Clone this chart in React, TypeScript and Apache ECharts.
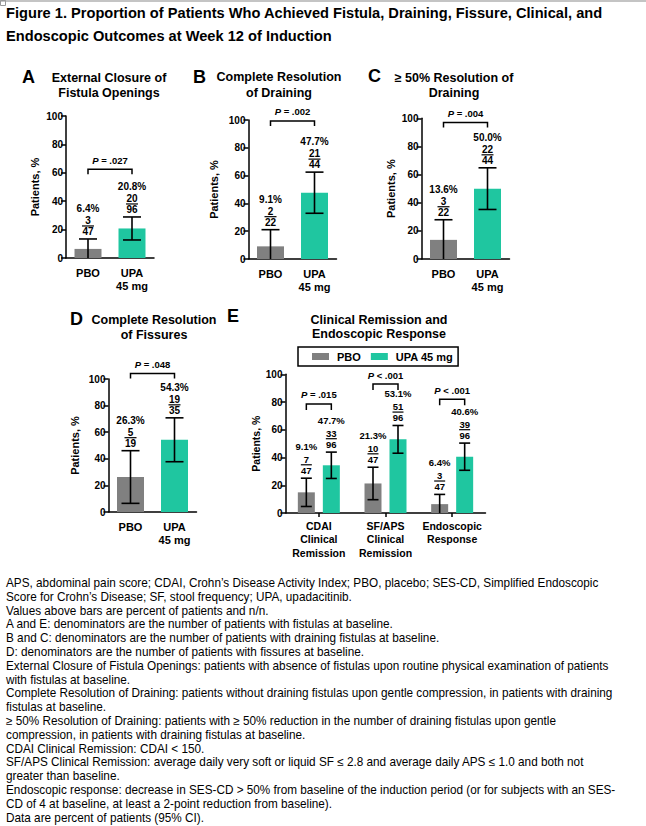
import React, { useEffect, useRef } from 'react';
import * as echarts from 'echarts';

const FONT = '"Liberation Sans", Arial, Helvetica, sans-serif';
const GRAY = '#808080';
const TEAL = '#1fc6a0';

const titleLines = [
  'Figure 1. Proportion of Patients Who Achieved Fistula, Draining, Fissure, Clinical, and',
  'Endoscopic Outcomes at Week 12 of Induction',
];

const groupLabels = ['PBO', 'UPA\n45 mg'];

// Panel A – External Closure of Fistula Openings
const aValues = [6.4, 20.8];
const aCiLow = [0, 12.7];
const aCiHigh = [13.4, 28.9];
const aPct = ['6.4%', '20.8%'];
const aNum = ['3', '20'];
const aDen = ['47', '96'];
const aP = ['= .027'];
const aBracket = [62.5];

// Panel B – Complete Resolution of Draining
const bValues = [9.1, 47.7];
const bCiLow = [0, 32.9];
const bCiHigh = [21.1, 62.5];
const bPct = ['9.1%', '47.7%'];
const bNum = ['2', '21'];
const bDen = ['22', '44'];
const bP = ['= .002'];
const bBracket = [99.3];

// Panel C – >= 50% Resolution of Draining
const cValues = [13.6, 50.0];
const cCiLow = [0, 35.2];
const cCiHigh = [27.9, 64.8];
const cPct = ['13.6%', '50.0%'];
const cNum = ['3', '22'];
const cDen = ['22', '44'];
const cP = ['= .004'];
const cBracket = [97];

// Panel D – Complete Resolution of Fissures
const dValues = [26.3, 54.3];
const dCiLow = [6.5, 37.8];
const dCiHigh = [46.1, 70.8];
const dPct = ['26.3%', '54.3%'];
const dNum = ['5', '19'];
const dDen = ['19', '35'];
const dP = ['= .048'];
const dBracket = [104.2];

// Panel E – Clinical Remission and Endoscopic Response
const eCategories = ['CDAI\nClinical\nRemission', 'SF/APS\nClinical\nRemission', 'Endoscopic\nResponse'];
const ePboValues = [14.9, 21.3, 6.4];
const ePboLow = [4.7, 9.6, 0];
const ePboHigh = [25.1, 33.0, 13.4];
const ePboPct = ['9.1%', '21.3%', '6.4%'];
const ePboNum = ['7', '10', '3'];
const ePboDen = ['47', '47', '47'];
const eUpaValues = [34.4, 53.1, 40.6];
const eUpaLow = [24.9, 43.1, 30.8];
const eUpaHigh = [43.9, 63.1, 50.4];
const eUpaPct = ['47.7%', '53.1%', '40.6%'];
const eUpaNum = ['33', '51', '39'];
const eUpaDen = ['96', '96', '96'];
const eP = ['= .015', '< .001', '< .001'];
const eBracket = [78.6, 93, 82];

const seriesNames = ['PBO', 'UPA 45 mg'];

const footnotes = [
  'APS, abdominal pain score; CDAI, Crohn\u2019s Disease Activity Index; PBO, placebo; SES-CD, Simplified Endoscopic',
  'Score for Crohn\u2019s Disease; SF, stool frequency; UPA, upadacitinib.',
  'Values above bars are percent of patients and n/n.',
  'A and E: denominators are the number of patients with fistulas at baseline.',
  'B and C: denominators are the number of patients with draining fistulas at baseline.',
  'D: denominators are the number of patients with fissures at baseline.',
  'External Closure of Fistula Openings: patients with absence of fistulas upon routine physical examination of patients',
  'with fistulas at baseline.',
  'Complete Resolution of Draining: patients without draining fistulas upon gentle compression, in patients with draining',
  'fistulas at baseline.',
  '\u2265 50% Resolution of Draining: patients with \u2265 50% reduction in the number of draining fistulas upon gentle',
  'compression, in patients with draining fistulas at baseline.',
  'CDAI Clinical Remission: CDAI < 150.',
  'SF/APS Clinical Remission: average daily very soft or liquid SF \u2264 2.8 and average daily APS \u2264 1.0 and both not',
  'greater than baseline.',
  'Endoscopic response: decrease in SES-CD > 50% from baseline of the induction period (or for subjects with an SES-',
  'CD of 4 at baseline, at least a 2-point reduction from baseline).',
  'Data are percent of patients (95% CI).',
];

const panelTitles = [
  ['External Closure of', 'Fistula Openings'],
  ['Complete Resolution', 'of Draining'],
  ['\u2265 50% Resolution of', 'Draining'],
  ['Complete Resolution', 'of Fissures'],
  ['Clinical Remission and', 'Endoscopic Response'],
];
const panelLetters = ['A', 'B', 'C', 'D', 'E'];

// layout constants (pixels)
const layouts = [
  { left: 66, top: 116, height: 142, width: 88, nameGap: 26, letter: [22, 77], titleX: 109, titleY: [78, 93] },
  { left: 248.5, top: 120, height: 139, width: 88, nameGap: 29, letter: [193, 77], titleX: 279, titleY: [77, 93] },
  { left: 421.5, top: 118.3, height: 140.7, width: 88, nameGap: 25, letter: [368, 76], titleX: 454, titleY: [78, 93] },
  { left: 108.5, top: 379, height: 133, width: 88, nameGap: 28, letter: [70, 319], titleX: 154, titleY: [320, 335] },
  { left: 285.5, top: 374.3, height: 138.7, width: 200, nameGap: 23, letter: [227, 316], titleX: 379, titleY: [320, 334] },
];

const lineStyleBlack = { color: '#000', width: 1.5 };

function textStyle(text: string, font: string, extra: any = {}) {
  return {
    text,
    font,
    fill: '#000',
    align: 'center',
    verticalAlign: 'middle',
    textAlign: 'center',
    textVerticalAlign: 'middle',
    ...extra,
  };
}

function errorSeries(g: number, low: number[], high: number[], pct: string[], num: string[], den: string[], offset: number, cfg: any) {
  return {
    type: 'custom',
    xAxisIndex: g,
    yAxisIndex: g,
    silent: true,
    clip: false,
    z: 10,
    data: low.map((l, i) => [i, l, high[i]]),
    encode: { x: 0, y: [1, 2] },
    renderItem: (params: any, api: any) => {
      const i = params.dataIndex;
      const cat = api.value(0);
      const lo = api.value(1);
      const hi = api.value(2);
      const x = api.coord([cat, 0])[0] + offset;
      const yLo = api.coord([cat, lo])[1];
      const yHi = api.coord([cat, hi])[1];
      const ls = { stroke: '#000', lineWidth: cfg.lw };
      const h = cfg.cap / 2;
      const children: any[] = [
        { type: 'line', shape: { x1: x, y1: yLo, x2: x, y2: yHi }, style: ls },
        { type: 'line', shape: { x1: x - h, y1: yHi, x2: x + h, y2: yHi }, style: ls },
      ];
      if (lo > 0) children.push({ type: 'line', shape: { x1: x - h, y1: yLo, x2: x + h, y2: yLo }, style: ls });
      const tf = `bold ${cfg.fs}px ${FONT}`;
      children.push({ type: 'text', x, y: yHi - cfg.denDy, style: textStyle(den[i], tf) });
      children.push({ type: 'text', x, y: yHi - cfg.numDy, style: textStyle(num[i], tf) });
      children.push({ type: 'text', x, y: yHi - cfg.pctDy, style: textStyle(pct[i], tf) });
      children.push({
        type: 'line',
        shape: { x1: x - cfg.fw / 2, y1: yHi - cfg.lineDy, x2: x + cfg.fw / 2, y2: yHi - cfg.lineDy },
        style: { stroke: '#000', lineWidth: 1.2 },
      });
      return { type: 'group', children };
    },
  };
}

function bracketSeries(g: number, items: number[][], texts: string[], dx0: number, dx1: number, leg: number, fs: number) {
  return {
    type: 'custom',
    xAxisIndex: g,
    yAxisIndex: g,
    silent: true,
    clip: false,
    z: 10,
    data: items,
    encode: { x: [0, 1], y: 2 },
    renderItem: (params: any, api: any) => {
      const i = params.dataIndex;
      const lvl = api.value(2);
      const p0 = api.coord([api.value(0), lvl]);
      const p1 = api.coord([api.value(1), lvl]);
      const x0 = p0[0] + dx0;
      const x1 = p1[0] + dx1;
      const y = p0[1];
      const ls = { stroke: '#000', lineWidth: 1.5, fill: 'none' };
      return {
        type: 'group',
        children: [
          { type: 'polyline', shape: { points: [[x0, y + leg], [x0, y], [x1, y], [x1, y + leg]] }, style: ls },
          {
            type: 'text',
            x: (x0 + x1) / 2,
            y: y - 9,
            style: textStyle('{i|P} ' + texts[i], `bold ${fs}px ${FONT}`, {
              rich: { i: { fontStyle: 'italic', fontWeight: 'bold', fontSize: fs, fontFamily: FONT, fill: '#000', color: '#000' } },
            }),
          },
        ],
      };
    },
  };
}

export default function App() {
  const ref = useRef<HTMLDivElement>(null);

  useEffect(() => {
    if (!ref.current) return;
    const chart = echarts.init(ref.current, undefined, { renderer: 'svg' });

    // measure text to emulate the condensed (narrow) typeface
    const cv = document.createElement('canvas');
    const ctx = cv.getContext('2d')!;
    ctx.font = `12px ${FONT}`;
    const fnScale = 603 / ctx.measureText(footnotes[6]).width;
    ctx.font = `bold 14px ${FONT}`;
    const ttScale = 597 / ctx.measureText(titleLines[0]).width;

    const panelsAD = [
      { v: aValues, lo: aCiLow, hi: aCiHigh, pct: aPct, num: aNum, den: aDen, p: aP, br: aBracket },
      { v: bValues, lo: bCiLow, hi: bCiHigh, pct: bPct, num: bNum, den: bDen, p: bP, br: bBracket },
      { v: cValues, lo: cCiLow, hi: cCiHigh, pct: cPct, num: cNum, den: cDen, p: cP, br: cBracket },
      { v: dValues, lo: dCiLow, hi: dCiHigh, pct: dPct, num: dNum, den: dDen, p: dP, br: dBracket },
    ];

    const grids: any[] = layouts.map((l) => ({ left: l.left, top: l.top, width: l.width, height: l.height }));

    const axisLabelBold = { color: '#000', fontWeight: 'bold', fontFamily: FONT };

    const xAxes: any[] = layouts.map((l, g) => ({
      gridIndex: g,
      type: 'category',
      data: g < 4 ? groupLabels : eCategories,
      axisLine: { lineStyle: lineStyleBlack },
      axisTick: g < 4 ? { show: false } : { show: true, alignWithLabel: true, length: 4, lineStyle: lineStyleBlack },
      axisLabel: {
        ...axisLabelBold,
        interval: 0,
        fontSize: g < 4 ? 11 : 10.5,
        lineHeight: g < 4 ? 13 : 13.3,
        margin: g < 4 ? 8.5 : 6.5,
      },
    }));

    const yAxes: any[] = layouts.map((l, g) => ({
      gridIndex: g,
      type: 'value',
      min: 0,
      max: 100,
      interval: 20,
      name: 'Patients, %',
      nameLocation: 'middle',
      nameGap: l.nameGap,
      nameTextStyle: { ...axisLabelBold, fontSize: g < 4 ? 11 : 10.5 },
      axisLine: { show: true, lineStyle: lineStyleBlack },
      axisTick: { show: true, length: 5, lineStyle: lineStyleBlack },
      axisLabel: { ...axisLabelBold, fontSize: 10, margin: 3 },
      splitLine: { show: false },
    }));

    const cfgAD = { lw: 1.6, cap: 18, fs: 10, denDy: 7.3, numDy: 18.5, lineDy: 13, pctDy: 30.5, fw: 12 };
    const cfgE = { lw: 1.6, cap: 11, fs: 9.5, denDy: 7.6, numDy: 18.8, lineDy: 13.4, pctDy: 31.5, fw: 11 };

    const series: any[] = [];
    panelsAD.forEach((p, g) => {
      series.push({
        type: 'bar',
        name: 'panel' + panelLetters[g],
        xAxisIndex: g,
        yAxisIndex: g,
        barWidth: 27,
        silent: true,
        data: p.v.map((v, i) => ({ value: v, itemStyle: { color: i === 0 ? GRAY : TEAL } })),
      });
      series.push(errorSeries(g, p.lo, p.hi, p.pct, p.num, p.den, 0, cfgAD));
      series.push(bracketSeries(g, p.br.map((b) => [0, 1, b]), p.p, 0, 0, 5, 9.5));
    });

    const eBarW = 17;
    const eGap = 8;
    const eOff = (eBarW + eGap) / 2;
    series.push({
      type: 'bar', name: seriesNames[0], xAxisIndex: 4, yAxisIndex: 4, barWidth: eBarW, barGap: (eGap / eBarW) * 100 + '%',
      itemStyle: { color: GRAY }, silent: true, data: ePboValues,
    });
    series.push({
      type: 'bar', name: seriesNames[1], xAxisIndex: 4, yAxisIndex: 4, barWidth: eBarW, barGap: (eGap / eBarW) * 100 + '%',
      itemStyle: { color: TEAL }, silent: true, data: eUpaValues,
    });
    series.push(errorSeries(4, ePboLow, ePboHigh, ePboPct, ePboNum, ePboDen, -eOff, cfgE));
    series.push(errorSeries(4, eUpaLow, eUpaHigh, eUpaPct, eUpaNum, eUpaDen, eOff, cfgE));
    series.push(bracketSeries(4, eBracket.map((b, i) => [i, i, b]), eP, -eOff, eOff, 6, 9.5));

    const graphic: any[] = [
      { type: 'rect', shape: { x: 0, y: 0, width: 646, height: 2 }, style: { fill: '#c4c4c4' } },
      { type: 'rect', shape: { x: 0.5, y: 0.5, width: 5, height: 5 }, style: { fill: 'none', stroke: '#999', lineWidth: 1 } },
    ];
    titleLines.forEach((t, i) => {
      graphic.push({
        type: 'group', x: 6, y: i === 0 ? 13.5 : 36.5, scaleX: ttScale,
        children: [{ type: 'text', style: { text: t, font: `bold 14px ${FONT}`, fill: '#000', textVerticalAlign: 'middle', verticalAlign: 'middle' } }],
      });
    });
    layouts.forEach((l, g) => {
      graphic.push({
        type: 'text', x: l.letter[0], y: l.letter[1],
        style: { text: panelLetters[g], font: `bold 18px ${FONT}`, fill: '#000', textVerticalAlign: 'middle', verticalAlign: 'middle' },
      });
      panelTitles[g].forEach((t, k) => {
        graphic.push({
          type: 'text', x: l.titleX, y: l.titleY[k],
          style: textStyle(t, `bold 12.5px ${FONT}`),
        });
      });
    });
    footnotes.forEach((t, i) => {
      graphic.push({
        type: 'group', x: 6, y: 583 + i * 13.8, scaleX: fnScale,
        children: [{ type: 'text', style: { text: t, font: `12px ${FONT}`, fill: '#000', textVerticalAlign: 'middle', verticalAlign: 'middle' } }],
      });
    });

    chart.setOption({
      animation: false,
      backgroundColor: '#fff',
      grid: grids,
      xAxis: xAxes,
      yAxis: yAxes,
      legend: {
        data: seriesNames,
        left: 298,
        top: 347,
        orient: 'horizontal',
        icon: 'rect',
        itemWidth: 17,
        itemHeight: 7,
        itemGap: 10,
        padding: [4, 5, 4, 14],
        borderColor: '#000',
        borderWidth: 1.5,
        selectedMode: false,
        textStyle: { color: '#000', fontWeight: 'bold', fontSize: 11, fontFamily: FONT, padding: [0, 0, 0, 3] },
      },
      series,
      graphic,
    });

    return () => chart.dispose();
  }, []);

  return <div ref={ref} style={{ position: 'absolute', left: 0, top: 0, width: 646, height: 826, background: '#fff' }} />;
}
